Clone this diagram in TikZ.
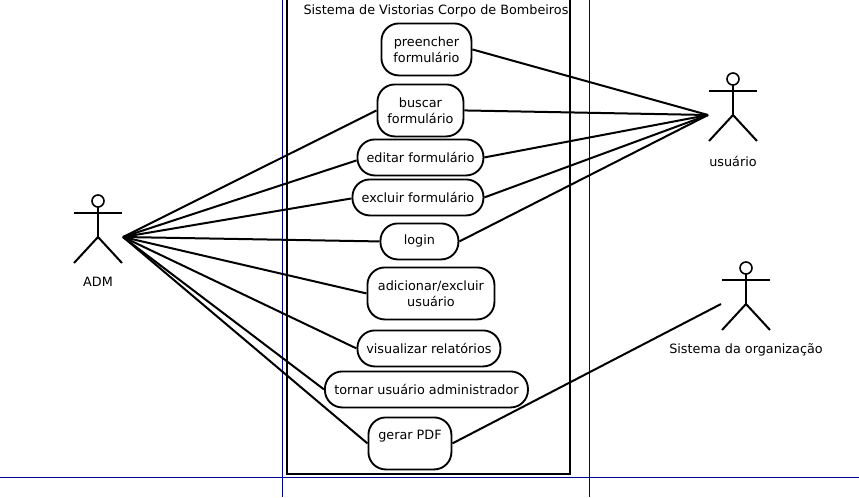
\documentclass[tikz,border=0pt]{standalone}
\usepackage{fontspec}
\setmainfont{DejaVu Sans}
\begin{document}
\begin{tikzpicture}[x=0.75pt,y=-0.75pt,
  every node/.style={font=\fontsize{9.6}{12.2}\selectfont},
  usecase/.style={draw=black,line width=1.4pt,rounded corners=13pt,fill=white,align=center,inner sep=0pt,anchor=north west},
  conn/.style={draw=black,line width=1.5pt},
  guide/.style={draw=blue!60!black,line width=0.75pt},
  stick/.style={draw=black,line width=1.5pt},
  lbl/.style={inner sep=0pt,text=black}]
\useasboundingbox (0,0) rectangle (859,497);
% guide lines
\draw[guide] (282.5,0) -- (282.5,497);
\draw[guide] (589.5,0) -- (589.5,497);
\draw[guide] (0,477.5) -- (859,477.5);
% system box
\draw[line width=1.6pt] (287,-1) rectangle (570,474);
\node[lbl] (title) at (436,11) {Sistema de Vistorias Corpo de Bombeiros};
% actors
\newcommand{\stickman}[3]{%
  \draw[stick,line width=1.2pt] (#1,#2) circle (6);
  \draw[stick] (#1,#2+6) -- (#1,#2+36);
  \draw[stick] (#1-24,#2+12) -- (#1+24,#2+12);
  \draw[stick] (#1-24,#2+62) -- (#1,#2+36) -- (#1+24,#2+62);
}
\stickman{98}{201}{}
\stickman{733}{79}{}
\stickman{746}{268}{}
\node[lbl] (admlabel) at (98,282) {ADM};
\node[lbl] (userlabel) at (733,161) {usuário};
\node[lbl] (orglabel) at (746,350) {Sistema da organização};
\coordinate (adm) at (123,237);
\coordinate (user) at (708,115);
\coordinate (org) at (721,304);
% use cases
\node[usecase,minimum width=67.5pt,minimum height=39pt] (preencher) at (380.5,22.5) {preencher\\formulário};
\node[usecase,minimum width=64.5pt,minimum height=39pt] (buscar) at (376.5,83.5) {buscar\\formulário};
\node[usecase,minimum width=94.5pt,minimum height=27pt] (editar) at (356.5,138.5) {editar formulário};
\node[usecase,minimum width=98.25pt,minimum height=27pt] (excluir) at (351.5,178.5) {excluir formulário};
\node[usecase,minimum width=58.5pt,minimum height=27pt] (login) at (379.5,222.5) {login};
\node[usecase,minimum width=95.25pt,minimum height=39pt] (adicionar) at (366.5,266.5) {adicionar/excluir\\usuário};
\node[usecase,minimum width=107.25pt,minimum height=27pt] (visualizar) at (356.5,329.5) {visualizar relatórios};
\node[usecase,minimum width=152.25pt,minimum height=27pt] (tornar) at (324,370.5) {tornar usuário administrador};
\node[usecase,minimum width=62.25pt,minimum height=39pt] (gerar) at (367.5,416.5) {gerar PDF\\\mbox{}};
% connectors
\draw[conn] (adm) -- (buscar.west);
\draw[conn] ([yshift=-2.25pt]editar.west) -- (adm);
\draw[conn] ([yshift=-0.75pt]excluir.west) -- (adm);
\draw[conn] (adm) -- (login.west);
\draw[conn] (adm) -- (adicionar.west);
\draw[conn] (adm) -- (visualizar.west);
\draw[conn] (adm) -- (tornar.west);
\draw[conn] (adm) -- (gerar.west);
\draw[conn] (preencher.east) -- (user);
\draw[conn] (buscar.east) -- (user);
\draw[conn] (editar.east) -- (user);
\draw[conn] (excluir.east) -- (user);
\draw[conn] (login.east) -- (user);
\draw[conn] (gerar.east) -- (org);
\end{tikzpicture}
\end{document}
